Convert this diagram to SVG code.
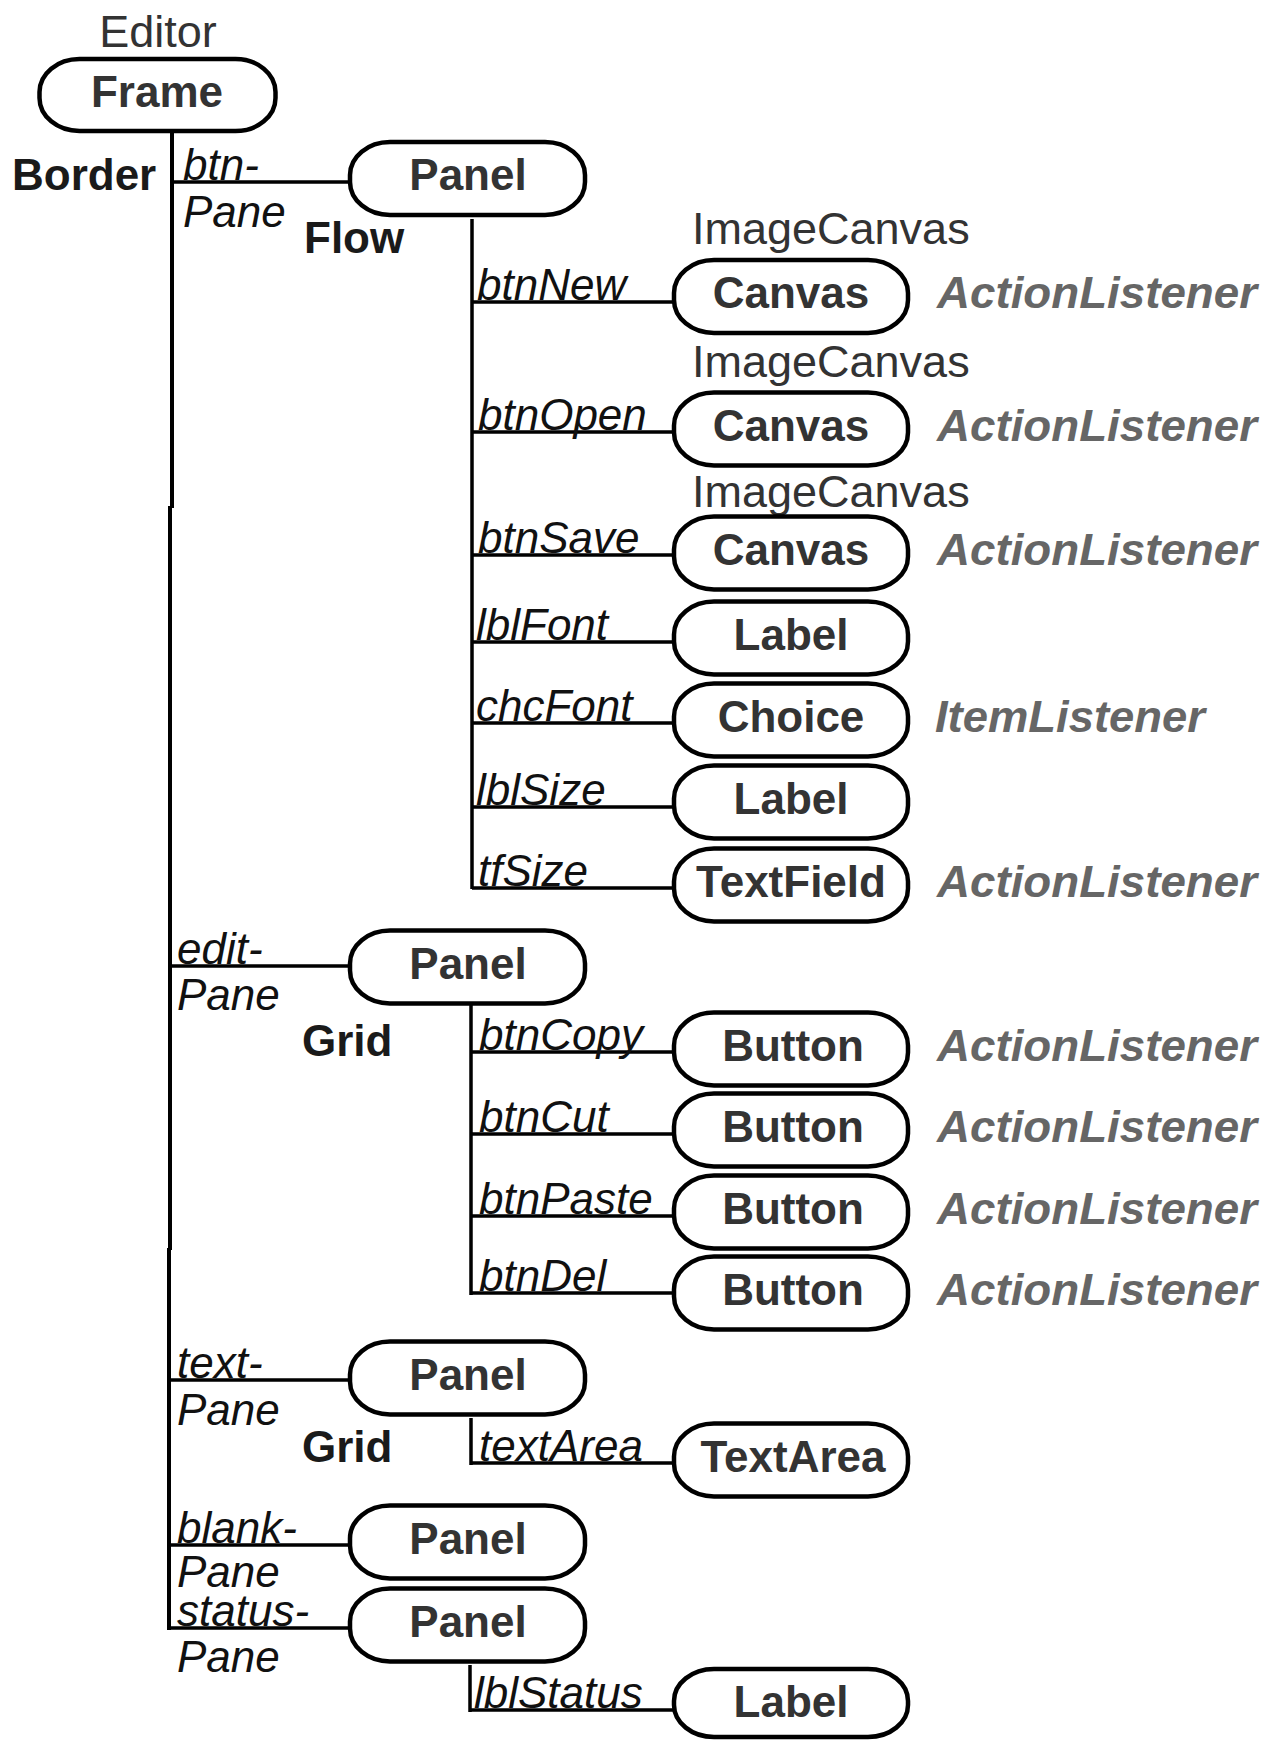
<svg xmlns="http://www.w3.org/2000/svg" width="1266" height="1740" viewBox="0 0 1266 1740">
<style>
  .box { fill:#fff; stroke:#000; stroke-width:4.5; }
  .nl { font-family:"Liberation Sans", Arial, sans-serif; font-weight:bold; font-size:44px; fill:#333; text-anchor:middle; }
  .cls { font-family:"Liberation Sans", Arial, sans-serif; font-size:45px; fill:#333; }
  .lbl { font-family:"Liberation Sans", Arial, sans-serif; font-style:italic; font-size:44px; fill:#111; }
  .lay { font-family:"Liberation Sans", Arial, sans-serif; font-weight:bold; font-size:44px; fill:#1a1a1a; }
  .lst { font-family:"Liberation Sans", Arial, sans-serif; font-weight:bold; font-style:italic; font-size:45px; fill:#666; }
  .conn { stroke:#000; stroke-width:3.5; fill:none; }
  .main { stroke:#000; stroke-width:4; fill:none; }
</style>
<rect width="1266" height="1740" fill="#fff"/>

<g id="connectors">
  <path class="main" d="M172 133 V508 M170 506 V1250 M169 1248 V1630"/>
  <path class="conn" d="M170 182 H350 M170 966 H350 M169 1380 H350 M169 1545 H350 M169 1628 H350"/>
  <path class="conn" d="M472 219 V889 M472 302 H674 M472 432 H674 M472 555 H674 M472 642 H674 M472 723 H674 M472 807 H674 M472 888 H674"/>
  <path class="conn" d="M471 1005 V1295 M471 1052 H674 M471 1134 H674 M471 1216 H674 M471 1293 H674"/>
  <path class="conn" d="M471 1418 V1465 M471 1463 H674"/>
  <path class="conn" d="M470 1665 V1712 M470 1710 H674"/>
</g>

<g id="edge-labels">
  <text class="lay" x="12" y="190">Border</text>
  <text class="lbl" x="183" y="180">btn-</text>
  <text class="lbl" x="183" y="227">Pane</text>
  <text class="lay" x="304" y="253">Flow</text>
  <text class="lbl" x="477" y="300">btnNew</text>
  <text class="lbl" x="478" y="430">btnOpen</text>
  <text class="lbl" x="478" y="553">btnSave</text>
  <text class="lbl" x="476" y="640">lblFont</text>
  <text class="lbl" x="476" y="721">chcFont</text>
  <text class="lbl" x="476" y="805">lblSize</text>
  <text class="lbl" x="478" y="886">tfSize</text>
  <text class="lbl" x="177" y="964">edit-</text>
  <text class="lbl" x="177" y="1010">Pane</text>
  <text class="lay" x="302" y="1056">Grid</text>
  <text class="lbl" x="479" y="1050">btnCopy</text>
  <text class="lbl" x="479" y="1132">btnCut</text>
  <text class="lbl" x="479" y="1214">btnPaste</text>
  <text class="lbl" x="479" y="1291">btnDel</text>
  <text class="lbl" x="177" y="1378">text-</text>
  <text class="lbl" x="177" y="1425">Pane</text>
  <text class="lay" x="302" y="1462">Grid</text>
  <text class="lbl" x="479" y="1461">textArea</text>
  <text class="lbl" x="177" y="1543">blank-</text>
  <text class="lbl" x="177" y="1587">Pane</text>
  <text class="lbl" x="177" y="1626">status-</text>
  <text class="lbl" x="177" y="1672">Pane</text>
  <text class="lbl" x="474" y="1708">lblStatus</text>
</g>

<g id="frame">
  <text class="cls" x="158" y="47" text-anchor="middle">Editor</text>
  <rect class="box" x="39.5" y="59" width="236" height="72" rx="40" ry="33"/>
  <text class="nl" x="157" y="107">Frame</text>
</g>

<g id="btnPane">
  <rect class="box" x="350" y="142" width="235" height="73" rx="40" ry="33"/>
  <text class="nl" x="468" y="190">Panel</text>
</g>

<g id="btnNewNode">
  <text class="cls" x="692" y="244">ImageCanvas</text>
  <rect class="box" x="674" y="260" width="234" height="73" rx="40" ry="33"/>
  <text class="nl" x="791" y="308">Canvas</text>
  <text class="lst" x="937" y="308" textLength="320" lengthAdjust="spacingAndGlyphs">ActionListener</text>
</g>

<g id="btnOpenNode">
  <text class="cls" x="692" y="377">ImageCanvas</text>
  <rect class="box" x="674" y="392.5" width="234" height="73" rx="40" ry="33"/>
  <text class="nl" x="791" y="441">Canvas</text>
  <text class="lst" x="937" y="441" textLength="320" lengthAdjust="spacingAndGlyphs">ActionListener</text>
</g>

<g id="btnSaveNode">
  <text class="cls" x="692" y="507">ImageCanvas</text>
  <rect class="box" x="674" y="516.5" width="234" height="73" rx="40" ry="33"/>
  <text class="nl" x="791" y="565">Canvas</text>
  <text class="lst" x="937" y="565" textLength="320" lengthAdjust="spacingAndGlyphs">ActionListener</text>
</g>

<g id="lblFontNode">
  <rect class="box" x="674" y="601.5" width="234" height="73" rx="40" ry="33"/>
  <text class="nl" x="791" y="650">Label</text>
</g>

<g id="chcFontNode">
  <rect class="box" x="674" y="683.5" width="234" height="73" rx="40" ry="33"/>
  <text class="nl" x="791" y="732">Choice</text>
  <text class="lst" x="935" y="732" textLength="270" lengthAdjust="spacingAndGlyphs">ItemListener</text>
</g>

<g id="lblSizeNode">
  <rect class="box" x="674" y="765.5" width="234" height="73" rx="40" ry="33"/>
  <text class="nl" x="791" y="814">Label</text>
</g>

<g id="tfSizeNode">
  <rect class="box" x="674" y="848.5" width="234" height="73" rx="40" ry="33"/>
  <text class="nl" x="791" y="897">TextField</text>
  <text class="lst" x="937" y="897" textLength="320" lengthAdjust="spacingAndGlyphs">ActionListener</text>
</g>

<g id="editPane">
  <rect class="box" x="350" y="930.5" width="235" height="73" rx="40" ry="33"/>
  <text class="nl" x="468" y="979">Panel</text>
</g>

<g id="btnCopyNode">
  <rect class="box" x="674" y="1012.5" width="234" height="73" rx="40" ry="33"/>
  <text class="nl" x="793" y="1061">Button</text>
  <text class="lst" x="937" y="1061" textLength="320" lengthAdjust="spacingAndGlyphs">ActionListener</text>
</g>

<g id="btnCutNode">
  <rect class="box" x="674" y="1093.5" width="234" height="73" rx="40" ry="33"/>
  <text class="nl" x="793" y="1142">Button</text>
  <text class="lst" x="937" y="1142" textLength="320" lengthAdjust="spacingAndGlyphs">ActionListener</text>
</g>

<g id="btnPasteNode">
  <rect class="box" x="674" y="1175.5" width="234" height="73" rx="40" ry="33"/>
  <text class="nl" x="793" y="1224">Button</text>
  <text class="lst" x="937" y="1224" textLength="320" lengthAdjust="spacingAndGlyphs">ActionListener</text>
</g>

<g id="btnDelNode">
  <rect class="box" x="674" y="1256.5" width="234" height="73" rx="40" ry="33"/>
  <text class="nl" x="793" y="1305">Button</text>
  <text class="lst" x="937" y="1305" textLength="320" lengthAdjust="spacingAndGlyphs">ActionListener</text>
</g>

<g id="textPane">
  <rect class="box" x="350" y="1341.5" width="235" height="73" rx="40" ry="33"/>
  <text class="nl" x="468" y="1390">Panel</text>
</g>

<g id="textAreaNode">
  <rect class="box" x="674" y="1423.5" width="234" height="73" rx="40" ry="33"/>
  <text class="nl" x="793" y="1472">TextArea</text>
</g>

<g id="blankPane">
  <rect class="box" x="350" y="1505.5" width="235" height="73" rx="40" ry="33"/>
  <text class="nl" x="468" y="1554">Panel</text>
</g>

<g id="statusPane">
  <rect class="box" x="350" y="1588.5" width="235" height="73" rx="40" ry="33"/>
  <text class="nl" x="468" y="1637">Panel</text>
</g>

<g id="lblStatusNode">
  <rect class="box" x="674" y="1669" width="234" height="68" rx="40" ry="32"/>
  <text class="nl" x="791" y="1717">Label</text>
</g>
</svg>
